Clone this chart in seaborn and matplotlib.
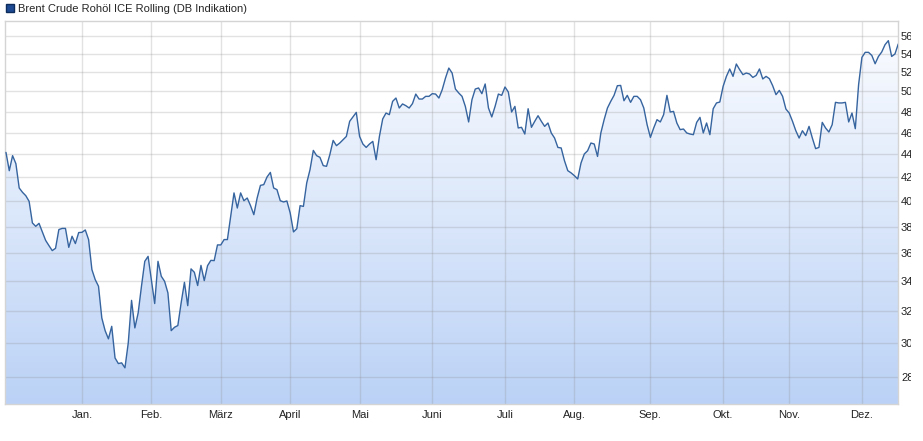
import numpy as np
import pandas as pd
import seaborn as sns
import matplotlib.pyplot as plt
from matplotlib.patches import Patch
from matplotlib.colors import LinearSegmentedColormap
from matplotlib.transforms import Bbox, TransformedBbox
from matplotlib.ticker import FixedLocator, FixedFormatter, NullLocator

# %% Daten: Brent Crude, ein Kurs je Handelstag (Anfang Dez. bis Mitte Dez.)

kurse = [
    44.18, 42.57, 43.89, 43.18, 41.10, 40.74, 40.46, 40.00, 38.28, 38.02,
    38.25, 37.59, 36.95, 36.56, 36.19, 36.36, 37.77, 37.86, 37.86, 36.43,
    37.26, 36.71, 37.54, 37.56, 37.74, 37.01, 34.82, 34.12, 33.66, 31.56,
    30.76, 30.25, 31.03, 29.10, 28.77, 28.81, 28.52, 30.00, 32.71, 30.93,
    31.89, 33.66, 35.41, 35.77, 34.12, 32.50, 35.41, 34.35, 34.00, 33.21,
    30.76, 30.97, 31.08, 32.54, 33.93, 32.36, 34.87, 34.63, 33.71, 35.12,
    34.05, 35.10, 35.48, 35.46, 36.61, 36.61, 37.01, 37.01, 38.80, 40.69,
    39.46, 40.69, 40.05, 40.27, 39.65, 38.93, 40.27, 41.32, 41.38, 42.03,
    42.42, 41.10, 40.96, 40.05, 39.95, 40.03, 39.07, 37.59, 37.84, 39.65,
    39.59, 41.52, 42.66, 44.36, 43.89, 43.74, 43.01, 42.95, 43.98, 45.27,
    44.79, 45.03, 45.34, 45.64, 47.06, 47.48, 47.92, 45.64, 44.94, 44.63,
    44.94, 45.18, 43.53, 45.64, 47.29, 47.86, 47.70, 49.01, 49.34, 48.35,
    48.75, 48.58, 48.35, 48.78, 49.74, 49.24, 49.24, 49.51, 49.51, 49.78,
    49.74, 49.34, 50.18, 51.39, 52.44, 51.91, 50.25, 49.85, 49.51, 48.51,
    47.00, 49.17, 50.25, 50.36, 49.78, 50.77, 48.35, 47.48, 48.51, 49.74,
    49.61, 50.46, 49.95, 47.96, 48.51, 46.43, 46.49, 45.86, 48.28, 46.49,
    47.06, 47.60, 47.06, 46.58, 46.90, 45.96, 45.49, 44.63, 44.58, 43.44,
    42.57, 42.38, 42.14, 41.86, 43.24, 44.04, 44.33, 45.03, 44.94, 43.82,
    45.96, 47.22, 48.35, 49.01, 49.61, 50.59, 50.62, 49.07, 49.61, 48.91,
    49.51, 49.51, 49.17, 48.35, 46.74, 45.55, 46.43, 47.22, 47.00, 47.70,
    49.61, 47.96, 48.02, 46.90, 46.27, 46.33, 45.96, 45.86, 45.80, 46.96,
    47.44, 45.96, 46.90, 45.80, 48.28, 48.85, 48.94, 50.52, 51.56, 52.34,
    51.56, 52.87, 52.27, 51.74, 51.91, 51.81, 51.45, 51.66, 52.34, 51.29,
    51.56, 51.32, 50.59, 49.68, 50.11, 49.51, 48.25, 47.86, 47.06, 46.17,
    45.49, 46.17, 45.71, 46.58, 45.49, 44.52, 44.63, 46.96, 46.43, 46.05,
    46.74, 48.91, 48.85, 48.85, 48.91, 47.00, 47.86, 46.36, 50.70, 53.59,
    54.14, 54.14, 53.80, 52.90, 53.69, 54.18, 54.99, 55.44, 53.69, 53.96,
    55.07,
]

monate = ['Jan.', 'Feb.', 'März', 'April', 'Mai', 'Juni',
          'Juli', 'Aug.', 'Sep.', 'Okt.', 'Nov.', 'Dez.']
# Handelstag-Index, an dem der jeweilige Monat beginnt
monats_start = [23, 44, 65, 86, 107, 129, 151, 172, 195, 217, 237, 259]
y_ticks = [28, 30, 32, 34, 36, 38, 40, 42, 44, 46, 48, 50, 52, 54, 56]

titel = 'Brent Crude Rohöl ICE Rolling (DB Indikation)'

df = pd.DataFrame({'tag': np.arange(len(kurse)), 'kurs': kurse})

# %% Plot

sns.set_style('white')
plt.rcParams['font.family'] = ['Liberation Sans', 'DejaVu Sans']

fig, ax = plt.subplots(figsize=(9.23, 4.41), dpi=100)
fig.subplots_adjust(left=0.0054, right=0.9732, bottom=0.0839, top=0.9524)
ax.set_yscale('log')

# Flaeche unter der Kurve mit Farbverlauf
flaeche = ax.fill_between(df['tag'], df['kurs'], 10, color='none', lw=0)
verlauf = LinearSegmentedColormap.from_list('verlauf', ['#bbd2f6', '#fcfdff'])
bild = ax.imshow(np.linspace(0, 1, 256).reshape(-1, 1), extent=[0, 1, 0, 1],
                 transform=ax.transAxes, aspect='auto', cmap=verlauf,
                 origin='lower', zorder=1)
bild.set_clip_path(flaeche.get_paths()[0], ax.transData)

sns.lineplot(data=df, x='tag', y='kurs', color='#36649f', linewidth=1.0,
             ax=ax, zorder=3)

ax.set_xlim(-0.3, 270)
ax.set_ylim(26.5, 57.7)
ax.set_xlabel('')
ax.set_ylabel('')

ax.set_xticks(monats_start)
ax.set_xticklabels(monate)
ax.yaxis.set_major_locator(FixedLocator(y_ticks))
ax.yaxis.set_major_formatter(FixedFormatter([str(v) for v in y_ticks]))
ax.yaxis.set_minor_locator(NullLocator())
ax.yaxis.tick_right()
ax.tick_params(axis='both', length=0, labelsize=8, colors='#222222')
ax.tick_params(axis='y', pad=2)
ax.tick_params(axis='x', pad=4)

# Kurslabels am rechten Rand abgeschnitten wie im Original
rand = TransformedBbox(Bbox([[0, 0], [911 / 923, 1]]), fig.transFigure)
for tick in ax.yaxis.get_major_ticks():
    tick.label2.set_clip_on(True)
    tick.label2.set_clip_box(rand)

ax.set_axisbelow('line')
ax.grid(True, color='#8c8c8c', alpha=0.25, linewidth=1)
for s in ax.spines.values():
    s.set_color('#d4d4d4')
    s.set_linewidth(1)

fig.legend(handles=[Patch(facecolor='#1d4a93', edgecolor='#0e2c5c', label=titel)],
           loc='upper left', bbox_to_anchor=(0.003, 0.998), frameon=False,
           fontsize=8, handlelength=0.75, handleheight=0.75,
           handletextpad=0.3, borderaxespad=0, borderpad=0.3)

plt.savefig('out.png', dpi=100)
